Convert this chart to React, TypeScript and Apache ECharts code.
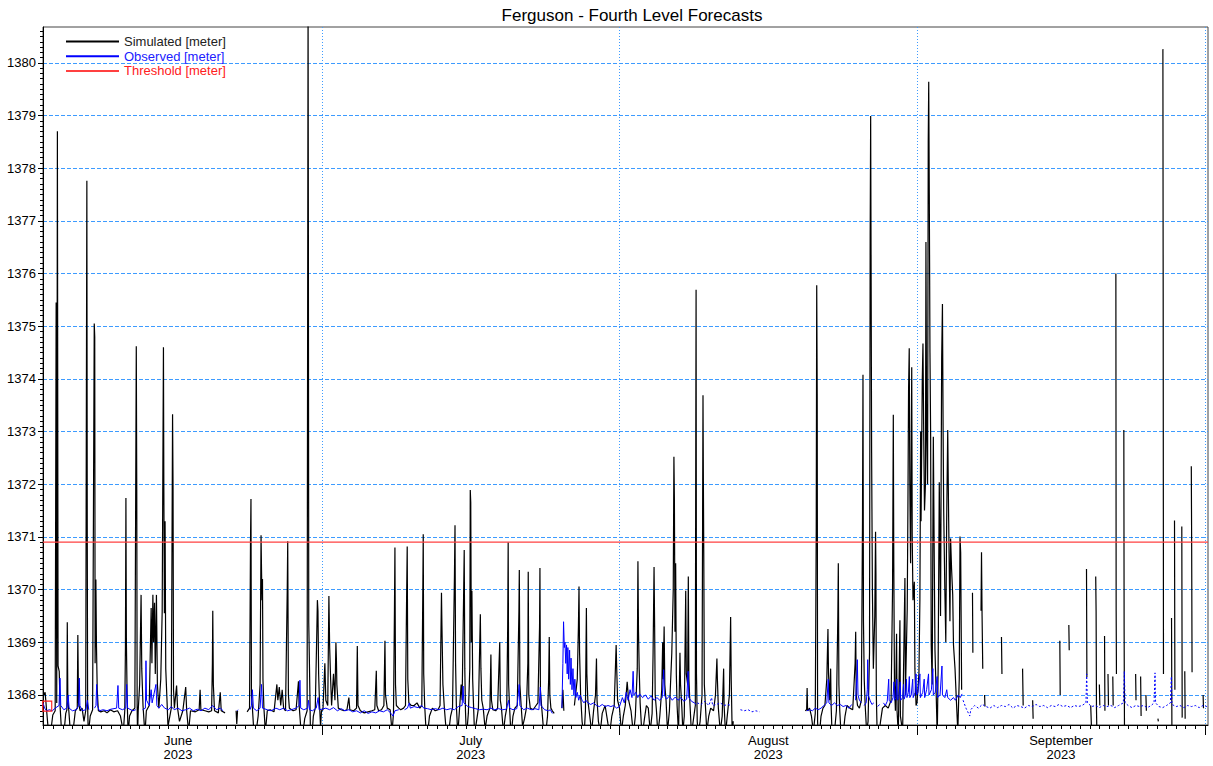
import React, { useEffect, useRef } from "react";
import * as echarts from "echarts";

// ---------- data (x = days since 2023-06-01 00:00, y = level in metres) ----------
const chartTitle = "Ferguson - Fourth Level Forecasts";
const seriesNames = ["Simulated [meter]", "Observed [meter]", "Threshold [meter]"];

const xStartDay = 0.93;
const xEndDay = 122.32;
const yMin = 1367.43;
const yMax = 1380.68;
const yTicks = [1368, 1369, 1370, 1371, 1372, 1373, 1374, 1375, 1376, 1377, 1378, 1379, 1380];
const monthStartDays = [30, 61, 92, 122];
const monthLabelDays = [15, 45.5, 76.5, 107];
const monthLabels = ["June\n2023", "July\n2023", "August\n2023", "September\n2023"];
const thresholdValue = 1370.9;
const startMarker = [[1.37, 1367.79]];

const simJune = [
  [0.93, 1367.98], [1.15, 1368.05], [1.3, 1367.72], [1.45, 1367.4], [1.7, 1367.25], [1.95, 1367.62], [2.2, 1367.7],
  [2.3, 1375.45], [2.36, 1367.85], [2.43, 1378.7], [2.5, 1368.55], [2.62, 1368.45], [2.72, 1367.75], [2.85, 1367.35], [3.1, 1367.25], [3.3, 1367.65],
  [3.42, 1367.72], [3.46, 1369.38], [3.52, 1367.9], [3.62, 1367.7], [3.8, 1367.25], [4.05, 1367.3], [4.3, 1367.7],
  [4.5, 1367.75], [4.56, 1369.14], [4.63, 1367.85], [4.8, 1367.7], [5.0, 1367.75], [5.2, 1367.5], [5.38, 1367.7],
  [5.5, 1377.76], [5.54, 1371.27], [5.58, 1367.8], [5.65, 1367.25], [5.85, 1367.6], [6.1, 1367.72],
  [6.27, 1375.05], [6.32, 1374.8], [6.36, 1368.6], [6.44, 1370.19], [6.5, 1368.95], [6.58, 1368.1], [6.7, 1367.7], [6.95, 1367.68],
  [7.3, 1367.7], [7.6, 1367.66], [7.95, 1367.72], [8.3, 1367.68], [8.7, 1367.7], [9.0, 1367.6], [9.3, 1367.3], [9.45, 1367.7],
  [9.52, 1368.9], [9.57, 1371.74], [9.62, 1369.0], [9.7, 1367.9], [9.8, 1367.25], [9.95, 1367.6], [10.2, 1367.7], [10.5, 1367.75],
  [10.65, 1374.62], [10.7, 1371.9], [10.74, 1367.8], [10.78, 1367.2], [10.85, 1367.7], [11.0, 1368.2], [11.15, 1369.9], [11.22, 1368.5],
  [11.35, 1367.8], [11.55, 1367.25], [11.7, 1367.7],
  [12.0, 1367.8], [12.2, 1369.65], [12.28, 1368.6], [12.38, 1369.9], [12.45, 1369.0], [12.55, 1369.75], [12.63, 1368.4], [12.75, 1369.9],
  [12.85, 1368.2], [13.0, 1367.75], [13.2, 1368.3], [13.35, 1369.6],
  [13.48, 1374.6], [13.52, 1372.0], [13.58, 1369.55], [13.65, 1371.3], [13.72, 1368.5], [13.85, 1367.9], [13.95, 1367.4], [14.1, 1367.55], [14.3, 1367.75],
  [14.43, 1373.33], [14.48, 1371.96], [14.53, 1368.1], [14.62, 1367.75], [14.85, 1368.18], [14.95, 1367.75], [15.15, 1367.5], [15.5, 1367.7],
  [15.8, 1368.15], [15.9, 1367.7], [16.1, 1367.3], [16.3, 1367.7], [16.8, 1367.68], [17.2, 1367.72],
  [17.3, 1368.1], [17.38, 1367.72], [17.8, 1367.7], [18.2, 1367.68], [18.5, 1367.7], [18.58, 1368.6], [18.62, 1369.6], [18.68, 1368.2],
  [18.8, 1367.7], [19.2, 1367.66], [19.4, 1368.05], [19.5, 1367.7], [19.9, 1367.66], [20.0, null],
  [21.05, 1367.7], [21.12, 1367.45], [21.2, 1367.7], [21.3, null],
  [22.2, 1367.68], [22.45, 1367.75], [22.55, 1370.88], [22.6, 1371.72], [22.65, 1368.0], [22.75, 1367.75], [22.9, 1367.3], [23.1, 1367.25],
  [23.35, 1367.6], [23.55, 1368.2],
  [23.65, 1371.03], [23.7, 1370.37], [23.75, 1369.8], [23.8, 1370.2], [23.85, 1368.3], [23.95, 1367.75], [24.1, 1367.3], [24.3, 1367.7],
  [24.6, 1367.72], [25.0, 1367.68],
  [25.3, 1368.2], [25.4, 1367.9], [25.55, 1368.15], [25.7, 1367.8], [25.85, 1368.1], [26.0, 1367.75], [26.2, 1367.7],
  [26.38, 1370.0], [26.43, 1370.92], [26.5, 1368.0], [26.6, 1367.75], [27.0, 1367.7], [27.3, 1367.72], [27.55, 1368.26], [27.62, 1367.8],
  [27.8, 1367.35], [28.0, 1367.25], [28.2, 1367.55], [28.45, 1367.7],
  [28.55, 1381.2], [28.58, 1376.99], [28.62, 1369.38], [28.7, 1368.5], [28.8, 1367.25], [28.95, 1367.2], [29.1, 1367.6], [29.3, 1367.75],
  [29.45, 1369.1], [29.52, 1369.8], [29.58, 1369.6], [29.65, 1368.4], [29.75, 1367.8], [29.85, 1367.4], [29.95, 1367.7],
];

const simJuly = [
  [30.1, 1367.72], [30.3, 1368.6], [30.4, 1367.9], [30.6, 1367.8],
  [30.72, 1369.88], [30.8, 1368.9], [30.9, 1368.3], [31.0, 1367.8], [31.2, 1368.4], [31.35, 1367.9],
  [31.45, 1369.0], [31.5, 1368.7], [31.55, 1368.2], [31.7, 1367.75], [32.0, 1367.72], [32.3, 1367.7], [32.6, 1367.72], [32.8, 1367.95],
  [32.9, 1367.72], [33.3, 1367.7],
  [33.6, 1367.75], [33.68, 1368.93], [33.75, 1367.8], [34.0, 1367.7], [34.4, 1367.66], [34.8, 1367.68], [35.2, 1367.7], [35.5, 1367.72],
  [35.66, 1368.46], [35.72, 1367.8], [35.9, 1367.7], [36.2, 1367.72], [36.45, 1367.8], [36.56, 1369.03], [36.62, 1368.0], [36.8, 1367.75],
  [37.1, 1367.72], [37.3, 1367.3], [37.45, 1367.65],
  [37.55, 1369.6], [37.6, 1370.8], [37.66, 1368.2], [37.75, 1367.8], [38.0, 1367.75], [38.2, 1367.72], [38.5, 1367.75], [38.7, 1367.8],
  [38.82, 1369.9], [38.88, 1370.82], [38.94, 1368.3], [39.05, 1367.85], [39.3, 1367.8], [39.6, 1367.8], [39.9, 1367.85], [40.2, 1367.75], [40.4, 1367.8],
  [40.5, 1369.85], [40.55, 1371.05], [40.6, 1368.4], [40.7, 1367.8], [40.85, 1367.3], [41.0, 1367.25], [41.2, 1367.6], [41.5, 1367.75],
  [41.8, 1367.7], [42.1, 1367.72], [42.3, 1367.8],
  [42.45, 1369.94], [42.5, 1369.3], [42.6, 1368.2], [42.75, 1367.75], [42.95, 1367.3], [43.15, 1367.2], [43.4, 1367.6], [43.6, 1367.75],
  [43.8, 1370.24], [43.86, 1371.22], [43.92, 1368.6], [44.0, 1367.8], [44.15, 1367.25], [44.3, 1367.65], [44.5, 1368.2], [44.6, 1367.9], [44.75, 1369.8],
  [44.82, 1370.75], [44.88, 1368.5], [44.95, 1367.7], [45.05, 1367.2], [45.25, 1367.65], [45.4, 1368.5],
  [45.45, 1371.89], [45.5, 1371.66], [45.56, 1369.0], [45.62, 1369.98], [45.7, 1368.3], [45.8, 1367.75], [45.9, 1367.25], [46.1, 1367.5], [46.3, 1367.75],
  [46.5, 1369.53], [46.56, 1368.5], [46.65, 1367.9], [46.8, 1367.75], [47.0, 1367.35], [47.2, 1367.6], [47.5, 1367.75], [47.6, 1368.77],
  [47.66, 1367.9], [47.8, 1367.72], [48.1, 1367.7], [48.3, 1367.75],
  [48.52, 1369.0], [48.58, 1367.9], [48.7, 1367.75], [48.9, 1367.3], [49.1, 1367.6], [49.25, 1367.75],
  [49.35, 1369.3], [49.4, 1370.9], [49.45, 1368.2], [49.55, 1367.75], [49.7, 1367.2], [49.9, 1367.6], [50.1, 1367.75], [50.35, 1367.8],
  [50.52, 1369.6], [50.56, 1370.37], [50.62, 1368.2], [50.75, 1367.8], [50.9, 1367.4], [51.1, 1367.55], [51.3, 1367.75],
  [51.45, 1368.6], [51.49, 1370.34], [51.55, 1368.0], [51.7, 1367.75], [52.0, 1367.72], [52.3, 1367.8], [52.5, 1367.85],
  [52.67, 1369.3], [52.71, 1370.41], [52.76, 1368.1], [52.9, 1367.75], [53.1, 1367.3], [53.3, 1367.25], [53.5, 1367.6],
  [53.62, 1368.3], [53.68, 1369.1], [53.74, 1368.0], [53.85, 1367.75], [54.0, 1367.7], [54.2, 1367.65], [54.3, null],
  [55.0, 1367.75], [55.1, 1368.1], [55.2, 1367.7], [55.4, null],
  [56.3, 1367.8], [56.6, 1368.3], [56.72, 1369.3], [56.78, 1370.06], [56.84, 1368.8], [56.95, 1368.0], [57.1, 1367.5], [57.3, 1367.2], [57.45, 1367.7],
  [57.55, 1369.65], [57.6, 1368.4], [57.7, 1367.9], [57.9, 1367.6], [58.1, 1367.3], [58.3, 1367.7], [58.5, 1368.0], [58.6, 1368.69],
  [58.66, 1367.9], [58.8, 1367.5], [59.0, 1367.3], [59.2, 1367.65], [59.5, 1367.8], [59.8, 1367.45], [60.0, 1367.3], [60.2, 1367.6], [60.45, 1367.8],
  [60.65, 1368.95], [60.71, 1368.5], [60.8, 1367.9],
];

const simAugust = [
  [61.0, 1367.75], [61.2, 1367.3], [61.4, 1367.6], [61.6, 1367.8], [61.8, 1368.25], [61.95, 1367.9], [62.2, 1367.7], [62.45, 1367.25],
  [62.65, 1367.6], [62.85, 1368.5],
  [62.92, 1370.54], [62.98, 1369.2], [63.05, 1368.5], [63.15, 1367.85], [63.35, 1367.2], [63.6, 1367.55], [63.8, 1367.8], [64.0, 1367.75],
  [64.2, 1367.3], [64.4, 1367.65], [64.5, 1368.8],
  [64.6, 1370.43], [64.66, 1369.3], [64.72, 1368.0], [64.85, 1367.7], [65.0, 1367.25], [65.2, 1367.6], [65.4, 1368.1], [65.5, 1369.0],
  [65.56, 1368.3], [65.65, 1369.3], [65.72, 1368.2], [65.85, 1367.9], [66.0, 1367.3], [66.2, 1367.7], [66.45, 1368.8],
  [66.6, 1370.0], [66.67, 1372.52], [66.72, 1371.7], [66.78, 1369.2], [66.85, 1370.5], [66.92, 1368.4], [67.0, 1367.8], [67.15, 1367.25],
  [67.3, 1368.8], [67.36, 1368.2], [67.5, 1367.75], [67.6, 1367.3], [67.75, 1367.6],
  [67.9, 1369.98], [67.96, 1368.4], [68.1, 1368.2], [68.17, 1370.25], [68.23, 1368.3], [68.35, 1367.8], [68.5, 1367.25], [68.75, 1367.6], [68.9, 1367.8],
  [68.95, 1372.99], [68.98, 1375.69], [69.02, 1368.4], [69.1, 1367.5], [69.2, 1367.25], [69.4, 1367.5], [69.6, 1368.0],
  [69.7, 1373.69], [69.74, 1372.04], [69.78, 1370.7], [69.84, 1368.2], [69.95, 1367.8], [70.1, 1367.3], [70.3, 1367.6], [70.5, 1367.75],
  [70.8, 1367.7], [71.0, 1368.0], [71.15, 1368.69], [71.2, 1368.3], [71.3, 1367.75], [71.5, 1367.3], [71.7, 1367.6], [71.85, 1368.5],
  [71.9, 1367.8], [72.05, 1367.25], [72.2, 1367.55], [72.45, 1368.0],
  [72.58, 1369.48], [72.64, 1368.3], [72.75, 1367.2], [72.85, 1367.5], [72.95, null],
  [80.35, 1367.7], [80.5, 1367.72], [80.55, 1368.13], [80.6, 1367.7], [80.8, 1367.75], [81.0, 1367.6], [81.2, 1367.3], [81.4, 1367.65],
  [81.5, 1371.2], [81.55, 1375.78], [81.6, 1373.72], [81.64, 1367.5], [81.7, 1367.25], [81.85, 1367.3], [82.0, 1367.6], [82.2, 1367.75],
  [82.4, 1367.8], [82.6, 1368.3], [82.72, 1369.25], [82.78, 1368.4], [82.9, 1367.9], [83.0, 1368.5], [83.05, 1367.8], [83.15, 1367.25],
  [83.4, 1367.3], [83.6, 1367.7],
  [83.75, 1369.5], [83.8, 1370.5], [83.86, 1368.2], [83.95, 1367.7], [84.1, 1367.2], [84.3, 1367.25], [84.5, 1367.6], [84.7, 1367.8],
  [85.0, 1367.75], [85.3, 1367.72],
  [85.55, 1368.6], [85.61, 1369.2], [85.67, 1368.0], [85.8, 1367.8], [86.0, 1367.75], [86.2, 1367.9],
  [86.32, 1371.31], [86.37, 1374.08], [86.42, 1369.4], [86.5, 1368.3], [86.6, 1367.8], [86.75, 1367.3], [86.9, 1367.5], [87.05, 1368.8],
  [87.12, 1376.73], [87.17, 1378.99], [87.22, 1375.83], [87.27, 1372.6], [87.35, 1370.0], [87.45, 1368.5], [87.6, 1369.5],
  [87.68, 1371.1], [87.72, 1370.3], [87.76, 1368.0], [87.85, 1367.25], [88.0, 1367.2], [88.2, 1367.5], [88.4, 1367.75], [88.7, 1367.8],
  [89.0, 1367.75], [89.3, 1367.9],
  [89.45, 1370.0], [89.53, 1373.32], [89.58, 1370.5], [89.65, 1368.2], [89.75, 1367.7], [89.87, 1369.16], [89.92, 1367.7], [90.05, 1367.25],
  [90.22, 1369.42], [90.27, 1367.6], [90.5, 1367.3], [90.74, 1370.22], [90.79, 1368.0], [90.98, 1369.63], [91.05, 1371.5], [91.12, 1373.8],
  [91.19, 1374.58], [91.25, 1372.0], [91.33, 1370.5], [91.45, 1374.22], [91.5, 1371.0], [91.58, 1369.8], [91.72, 1370.15], [91.78, 1368.5], [91.9, 1367.8],
];

const simSeptember = [
  [92.0, 1367.85], [92.2, 1368.4], [92.3, 1369.8], [92.38, 1373.0], [92.42, 1371.3], [92.55, 1374.0], [92.62, 1374.67], [92.7, 1372.9],
  [92.78, 1371.5], [92.88, 1372.0], [92.93, 1376.6], [93.0, 1373.0], [93.1, 1372.0], [93.17, 1378.5], [93.22, 1379.64], [93.28, 1377.5],
  [93.35, 1374.5], [93.42, 1372.9], [93.48, 1368.95], [93.58, 1368.2], [93.7, 1372.9], [93.8, 1370.5], [93.87, 1368.86], [94.0, 1368.0],
  [94.11, 1367.2], [94.2, 1368.5], [94.32, 1372.04], [94.36, 1371.35], [94.45, 1369.5], [94.57, 1374.4], [94.65, 1375.42], [94.72, 1373.0],
  [94.78, 1371.5], [94.9, 1370.0], [95.0, 1369.0], [95.09, 1371.3], [95.2, 1373.03], [95.3, 1371.3], [95.36, 1370.4], [95.43, 1369.4],
  [95.5, 1370.97], [95.6, 1370.4], [95.72, 1369.9], [95.8, 1368.95], [95.96, 1368.5], [96.1, 1367.9], [96.25, 1367.3], [96.4, 1368.3],
  [96.48, 1371.01], [96.55, 1370.7], [96.65, 1368.1], [96.7, null],
  [97.78, 1369.94], [97.82, 1368.8], [97.86, null],
  [98.67, 1369.6], [98.72, 1370.71], [98.78, 1369.5], [98.85, 1368.5], [98.9, null],
  [99.04, 1368.0], [99.08, 1367.78], [99.12, null],
  [100.8, 1369.1], [100.85, 1368.4], [100.9, null],
  [103.0, 1368.5], [103.06, 1367.8], [103.1, null],
  [104.05, 1367.9], [104.1, 1367.55], [104.15, null],
  [106.88, 1369.03], [106.92, 1368.0], [106.96, null],
  [107.82, 1369.33], [107.86, 1368.85], [107.9, null],
  [109.66, 1370.39], [109.7, 1368.34], [109.74, null],
  [110.1, 1367.8], [110.2, 1367.25], [110.3, null],
  [110.62, 1370.25], [110.66, 1369.6], [110.7, 1367.74], [110.75, 1367.2], [110.8, null],
  [111.0, 1368.2], [111.05, 1367.8], [111.1, null],
  [111.54, 1369.12], [111.58, 1367.7], [111.62, null],
  [111.9, 1368.4], [111.95, 1367.8], [112.0, null],
  [112.4, 1368.35], [112.44, 1367.8], [112.5, null],
  [112.72, 1376.0], [112.75, 1369.6], [112.78, 1368.4], [112.82, null],
  [113.55, 1373.03], [113.58, 1369.25], [113.62, 1367.2], [113.66, null],
  [114.78, 1368.4], [114.82, 1367.9], [114.86, null],
  [115.3, 1368.35], [115.35, 1367.6], [115.4, null],
  [115.85, 1368.0], [115.9, 1367.7], [115.95, null],
  [117.1, 1367.55], [117.15, 1367.5], [117.2, null],
  [117.62, 1380.26], [117.65, 1375.61], [117.68, 1368.4], [117.72, null],
  [118.52, 1369.46], [118.56, 1367.3], [118.6, null],
  [118.83, 1371.31], [118.87, 1368.1], [118.91, null],
  [119.59, 1371.2], [119.63, 1367.57], [119.67, null],
  [119.9, 1368.45], [119.94, 1367.55], [119.98, null],
  [120.58, 1372.34], [120.62, 1370.75], [120.66, 1368.43], [120.7, null],
  [121.81, 1368.0], [121.85, 1367.75], [121.9, null],
];

const obsJune = [
  [0.93, 1367.85], [1.1, 1367.75], [1.3, 1367.7], [1.6, 1367.72], [1.9, 1367.7], [2.2, 1367.75], [2.6, 1367.8], [2.7, 1368.32], [2.78, 1367.8],
  [3.1, 1367.72], [3.4, 1367.75], [3.55, 1368.0], [3.65, 1367.75], [4.0, 1367.7], [4.4, 1367.72], [4.65, 1367.8], [4.71, 1368.32], [4.78, 1367.8],
  [5.0, 1367.7], [5.4, 1367.72], [5.55, 1367.9], [5.7, 1367.72], [5.9, null],
  [6.3, 1367.75], [6.45, 1367.8], [6.52, 1368.2], [6.6, 1367.8], [6.8, 1367.7], [7.2, 1367.72], [7.6, 1367.7], [8.0, 1367.73], [8.6, 1367.75],
  [8.74, 1368.18], [8.82, 1367.75], [9.2, 1367.72], [9.55, 1367.75], [9.65, 1368.2], [9.75, 1367.75], [10.3, 1367.7], [10.6, 1367.72], [10.9, null],
  [11.3, 1367.72], [11.6, 1367.75], [11.66, 1368.65], [11.72, 1367.9], [12.0, 1367.8], [12.2, 1368.1], [12.3, 1367.85], [12.7, 1368.2],
  [12.8, 1367.8], [13.0, 1367.75], [13.3, 1367.82], [13.6, 1367.75], [14.0, 1367.72], [14.3, 1367.78], [14.6, 1367.72], [15.0, 1367.75],
  [15.4, 1367.7], [15.8, 1367.72], [16.2, 1367.75], [16.6, 1367.7], [17.0, 1367.73], [17.4, 1367.7], [17.8, 1367.75], [18.2, 1367.72],
  [18.6, 1367.8], [19.0, 1367.72], [19.4, 1367.75], [19.7, 1367.7], [19.8, null],
  [21.15, 1367.7], [21.25, 1367.72], [21.3, null],
  [22.5, 1367.72], [22.65, 1367.8], [22.75, 1368.1], [22.85, 1367.75], [23.2, 1367.7], [23.55, 1367.75], [23.7, 1368.2], [23.8, 1367.75],
  [24.3, 1367.72], [24.7, 1367.7], [25.2, 1367.75], [25.6, 1367.72], [26.0, 1367.75], [26.4, 1367.7], [26.8, 1367.72], [27.3, 1367.75],
  [27.62, 1367.8], [27.7, 1368.28], [27.78, 1367.75], [28.1, 1367.72], [28.5, 1367.75], [28.6, 1367.9], [28.7, 1367.72], [29.0, 1367.7],
  [29.4, 1367.75], [29.6, 1367.95], [29.7, 1367.72], [30.0, 1367.73],
];

const obsJuly = [
  [30.4, 1367.75], [30.8, 1367.72], [31.2, 1367.76], [31.6, 1367.7], [32.0, 1367.74], [32.4, 1367.7], [32.8, 1367.72], [33.2, 1367.68],
  [33.6, 1367.7], [34.0, 1367.66], [34.4, 1367.7], [34.8, 1367.65], [35.2, 1367.68], [35.6, 1367.66], [36.0, 1367.7], [36.4, 1367.68],
  [36.8, 1367.72], [37.2, 1367.65], [37.4, 1367.6], [37.6, 1367.7], [38.0, 1367.72], [38.3, null],
  [38.6, 1367.72], [38.9, 1367.75], [39.1, 1367.85], [39.2, 1367.75], [39.6, 1367.78], [40.0, 1367.76], [40.4, 1367.8], [40.6, 1367.75],
  [41.0, 1367.74], [41.4, 1367.72], [41.8, 1367.74], [42.2, 1367.72], [42.6, 1367.75], [43.0, 1367.72], [43.4, 1367.74], [43.8, 1367.72],
  [44.2, 1367.78], [44.6, 1367.8], [44.7, 1368.17], [44.78, 1367.85], [45.2, 1367.78], [45.6, 1367.76], [46.0, 1367.74], [46.4, 1367.72],
  [46.8, 1367.73], [47.2, 1367.72], [47.6, 1367.75], [48.0, 1367.72], [48.4, 1367.74], [48.8, 1367.72], [49.2, 1367.73], [49.45, 1367.9],
  [49.55, 1367.75], [49.9, 1367.72], [50.3, 1367.74], [50.55, 1368.2], [50.62, 1367.8], [51.0, 1367.72], [51.4, 1367.75], [51.8, 1367.72],
  [52.2, 1367.74], [52.6, 1367.72], [52.75, 1368.15], [52.82, 1367.8], [53.2, 1367.72], [53.6, 1367.7], [53.8, 1367.72], [54.0, 1367.65], [54.1, null],
  [55.0, 1367.75], [55.1, 1368.6], [55.17, 1369.39], [55.25, 1368.9], [55.32, 1369.0], [55.4, 1368.6], [55.48, 1368.95], [55.55, 1368.4],
  [55.62, 1368.9], [55.7, 1368.3], [55.8, 1368.85], [55.88, 1368.2], [55.95, 1368.7], [56.05, 1368.1], [56.15, 1368.5], [56.25, 1368.0],
  [56.35, 1368.3], [56.45, 1367.95], [56.6, 1368.05], [56.75, 1367.9], [56.9, 1368.0], [57.1, 1367.9], [57.3, 1367.85], [57.5, 1367.9],
  [57.7, 1367.85], [58.0, 1367.82], [58.3, 1367.85], [58.6, 1367.8], [58.9, 1367.78], [59.2, 1367.82], [59.5, 1367.78], [59.8, 1367.8],
  [60.1, 1367.78], [60.4, 1367.8], [60.7, 1367.75], [61.0, 1367.78],
];

const obsAugust = [
  [61.3, 1367.95], [61.5, 1367.85], [61.7, 1368.05], [61.9, 1367.9], [62.1, 1368.1], [62.3, 1367.95], [62.42, 1368.45], [62.5, 1368.0],
  [62.7, 1368.05], [62.9, 1367.95], [63.1, 1368.02], [63.4, 1367.95], [63.7, 1368.0], [64.0, 1367.92], [64.3, 1367.98], [64.6, 1367.9],
  [64.9, 1367.95], [65.2, 1367.9], [65.45, 1367.95], [65.6, 1368.48], [65.68, 1368.0], [65.9, 1367.92], [66.2, 1367.98], [66.5, 1367.9],
  [66.8, 1367.96], [67.1, 1367.9], [67.4, 1367.95], [67.7, 1367.88], [68.0, 1367.92], [68.15, 1368.45], [68.22, 1367.95], [68.5, 1367.88],
  [68.8, 1367.85], [69.0, 1367.82], [69.1, null],
  [80.5, 1367.7], [80.8, 1367.72], [81.1, 1367.7], [81.4, 1367.75], [81.7, 1367.72], [82.0, 1367.75], [82.3, 1367.8], [82.6, 1367.85],
  [82.75, 1368.3], [82.82, 1367.85], [83.1, 1367.8], [83.4, 1367.85], [83.7, 1367.8], [84.0, 1367.82], [84.3, 1367.78], [84.6, 1367.8],
  [84.9, 1367.75], [85.2, 1367.82], [85.35, null],
  [85.6, 1367.9], [85.75, 1368.4], [85.78, 1368.67], [85.85, 1368.0], [86.0, 1367.9], [86.2, 1367.85], [86.4, null],
  [86.5, 1367.8], [86.7, 1367.85], [86.82, 1368.1], [86.86, 1368.67], [86.92, 1368.0], [87.1, 1367.9], [87.3, 1367.82], [87.5, 1367.85], [87.6, null],
  [87.9, 1367.78], [88.1, 1367.82], [88.3, null],
  [88.5, 1367.85], [88.7, 1367.8], [88.9, 1367.88], [89.05, 1368.3], [89.1, 1367.9], [89.3, 1367.85], [89.5, 1367.95], [89.6, 1368.25],
  [89.65, 1367.9], [89.8, 1367.95], [89.9, 1368.3], [89.95, 1367.9], [90.1, 1367.95], [90.25, 1368.25], [90.3, 1367.9], [90.5, 1367.95],
  [90.6, 1368.2], [90.65, 1367.92], [90.8, 1368.0], [90.9, 1368.3], [90.95, 1367.95], [91.1, 1368.05], [91.2, 1368.35], [91.25, 1367.95],
  [91.4, 1368.0], [91.55, 1368.3], [91.6, 1367.95], [91.8, 1368.05], [91.9, 1368.4], [91.95, 1368.0],
];

const obsSeptember = [
  [92.1, 1368.05], [92.3, 1368.4], [92.35, 1367.95], [92.6, 1368.05], [92.75, 1368.3], [92.8, 1367.95], [93.0, 1368.1], [93.2, 1368.4],
  [93.25, 1368.0], [93.5, 1368.1], [93.65, 1368.5], [93.7, 1368.0], [93.9, 1368.05], [94.1, 1368.35], [94.15, 1367.95], [94.4, 1368.0],
  [94.6, 1368.55], [94.65, 1368.0], [94.9, 1367.95], [95.1, 1368.1], [95.2, 1367.95], [95.5, 1367.9], [95.8, 1367.95], [96.0, 1367.9],
  [96.3, 1368.0], [96.5, 1367.95], [96.7, 1368.02],
];

// patchy (intermittent) observed record, drawn with a broken line
const obsPatchy = [
  [69.1, 1367.85], [69.5, 1367.82], [69.9, 1367.88], [70.3, 1367.8], [70.6, 1367.95], [70.7, 1367.8], [71.1, 1367.82], [71.5, 1367.85],
  [71.9, 1367.8], [72.3, 1367.82], [72.6, 1367.8], [72.7, null],
  [73.6, 1367.72], [74.0, 1367.7], [74.4, 1367.72], [74.8, 1367.68], [75.2, 1367.7], [75.6, 1367.68], [75.7, null],
  [96.8, 1367.9], [97.1, 1367.75], [97.5, 1367.6], [97.6, 1367.72], [98.0, 1367.8], [98.4, 1367.75], [98.8, 1367.82], [99.2, 1367.78],
  [99.6, 1367.75], [100.0, 1367.8], [100.4, 1367.76], [100.8, 1367.8], [101.2, 1367.78], [101.6, 1367.82], [102.0, 1367.75], [102.4, 1367.8],
  [102.8, 1367.78], [103.2, 1367.75], [103.6, 1367.8], [104.0, 1367.78], [104.4, 1367.82], [104.8, 1367.78], [105.2, 1367.8], [105.6, 1367.76],
  [106.0, 1367.8], [106.4, 1367.78], [106.8, 1367.82], [107.2, 1367.78], [107.6, 1367.8], [108.0, 1367.76], [108.4, 1367.8], [108.8, 1367.78],
  [109.2, 1367.8], [109.6, 1367.85], [109.68, 1368.4], [109.75, 1367.85], [110.2, 1367.78], [110.6, 1367.8], [111.0, 1367.76], [111.4, 1367.8],
  [111.8, 1367.78], [112.2, 1367.8], [112.6, 1367.76], [113.0, 1367.8], [113.5, 1367.85], [113.6, 1368.45], [113.68, 1367.85], [114.0, 1367.8],
  [114.4, 1367.76], [114.8, 1367.8], [115.2, 1367.78], [115.6, 1367.8], [116.0, 1367.76], [116.4, 1367.8], [116.7, 1367.85], [116.8, 1368.42],
  [116.86, 1367.85], [117.2, 1367.78], [117.6, 1367.76], [118.0, 1367.8], [118.4, 1367.85], [118.5, 1368.35], [118.56, 1367.82], [119.0, 1367.78],
  [119.4, 1367.8], [119.8, 1367.76], [120.2, 1367.8], [120.6, 1367.78], [121.0, 1367.8], [121.4, 1367.76], [121.8, 1367.8], [122.2, 1367.78],
];

const FONT = "'Liberation Sans', Arial, Helvetica, sans-serif";
const GRID_BLUE = "#3d9bff";

export default function App() {
  const ref = useRef<HTMLDivElement>(null);

  useEffect(() => {
    document.body.style.margin = "0";
    const chart = echarts.init(ref.current!, null, { renderer: "svg" });

    const dailyTicks: number[] = [];
    for (let d = Math.ceil(xStartDay); d <= Math.floor(xEndDay); d++) dailyTicks.push(d);
    const minorY: number[] = [];
    for (let i = Math.ceil(yMin * 10); i <= Math.floor(yMax * 10); i++) minorY.push(i / 10);

    const option: any = {
      animation: false,
      backgroundColor: "#ffffff",
      textStyle: { fontFamily: FONT },
      title: {
        text: chartTitle,
        left: 627,
        top: 2,
        textAlign: "center",
        textStyle: { fontSize: 17, fontWeight: "normal", color: "#000", fontFamily: FONT },
      },
      legend: {
        orient: "vertical",
        left: 65,
        top: 35,
        padding: 0,
        itemWidth: 53,
        itemHeight: 14,
        itemGap: 1.7,
        selectedMode: false,
        itemStyle: { color: "rgba(0,0,0,0)", borderWidth: 0, opacity: 0 },
        textStyle: { fontSize: 13, fontFamily: FONT },
        data: [
          { name: seriesNames[0], textStyle: { color: "#222" } },
          { name: seriesNames[1], textStyle: { color: "#2020ff" } },
          { name: seriesNames[2], textStyle: { color: "#ff2020" } },
        ],
      },
      grid: { left: 43, right: 5, top: 27, bottom: 41, show: true, borderColor: "#444", borderWidth: 1 },
      xAxis: [
        {
          type: "value",
          min: xStartDay,
          max: xEndDay,
          position: "bottom",
          axisLine: { show: true, lineStyle: { color: "#000", width: 1 } },
          axisTick: { show: true, customValues: dailyTicks, length: 4, lineStyle: { color: "#000" } },
          axisLabel: {
            show: true,
            customValues: monthLabelDays,
            color: "#000",
            fontSize: 13,
            lineHeight: 14,
            margin: 8,
            fontFamily: FONT,
            formatter: (v: number) => {
              let best = 0;
              monthLabelDays.forEach((t, i) => {
                if (Math.abs(t - v) < Math.abs(monthLabelDays[best] - v)) best = i;
              });
              return monthLabels[best];
            },
          },
          splitLine: { show: false },
        },
        {
          type: "value",
          min: xStartDay,
          max: xEndDay,
          position: "bottom",
          axisLine: { show: false },
          axisTick: { show: true, customValues: monthStartDays, length: 10, lineStyle: { color: "#000" } },
          axisLabel: { show: false },
          splitLine: { show: true, lineStyle: { color: GRID_BLUE, type: [1, 2], width: 1 } },
        },
      ],
      yAxis: [
        {
          type: "value",
          min: yMin,
          max: yMax,
          position: "left",
          axisLine: { show: true, lineStyle: { color: "#000" } },
          axisTick: { show: true, customValues: yTicks, length: 5, lineStyle: { color: "#000" } },
          axisLabel: {
            show: true,
            customValues: yTicks,
            color: "#000",
            fontSize: 13,
            margin: 7,
            fontFamily: FONT,
            formatter: (v: number) => String(Math.round(v)),
          },
          splitLine: { show: true, lineStyle: { color: GRID_BLUE, type: [4, 2], width: 1 } },
        },
        {
          type: "value",
          min: yMin,
          max: yMax,
          position: "left",
          axisLine: { show: false },
          axisTick: { show: true, customValues: minorY, length: 3, lineStyle: { color: "#000" } },
          axisLabel: { show: false },
          splitLine: { show: false },
        },
      ],
      series: [
        {
          name: seriesNames[0],
          type: "line",
          data: simJune.concat(simJuly, simAugust, simSeptember),
          showSymbol: false,
          symbol: "none",
          connectNulls: false,
          silent: true,
          lineStyle: { color: "#000", width: 1.2 },
          itemStyle: { color: "#000" },
          z: 2,
        },
        {
          name: seriesNames[1],
          type: "line",
          data: obsJune.concat(obsJuly, obsAugust, obsSeptember),
          showSymbol: false,
          symbol: "none",
          connectNulls: false,
          silent: true,
          lineStyle: { color: "#0000ff", width: 1 },
          itemStyle: { color: "#0000ff" },
          z: 3,
        },
        {
          name: seriesNames[1],
          type: "line",
          data: obsPatchy,
          showSymbol: false,
          symbol: "none",
          connectNulls: false,
          silent: true,
          lineStyle: { color: "#0000ff", width: 1, type: [2, 2] },
          itemStyle: { color: "#0000ff" },
          z: 3,
        },
        {
          name: seriesNames[2],
          type: "line",
          data: [[xStartDay, thresholdValue], [xEndDay, thresholdValue]],
          showSymbol: false,
          symbol: "none",
          silent: true,
          lineStyle: { color: "#ff4040", width: 1.3 },
          itemStyle: { color: "#ff4040" },
          z: 4,
        },
        {
          name: "start",
          type: "scatter",
          data: startMarker,
          symbol: "rect",
          symbolSize: [9, 10],
          silent: true,
          clip: false,
          itemStyle: { color: "rgba(255,255,255,0)", borderColor: "#ff2020", borderWidth: 1.2, opacity: 1 },
          z: 6,
        },
      ],
    };

    chart.setOption(option);
    return () => chart.dispose();
  }, []);

  return (
    <div
      ref={ref}
      style={{ position: "absolute", left: 0, top: 0, width: 1213, height: 766, background: "#fff" }}
    />
  );
}
